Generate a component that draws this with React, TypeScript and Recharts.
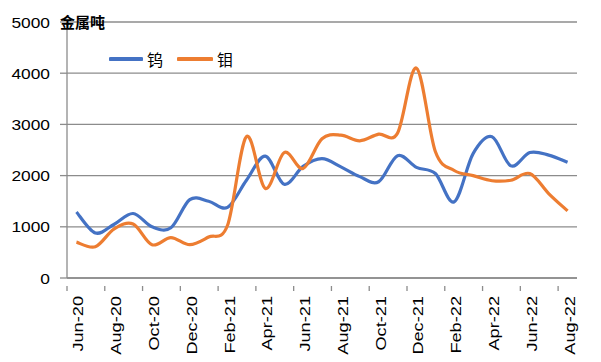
import { CartesianGrid, Line, LineChart, XAxis, YAxis } from "recharts";

const months = [
  "Jun-20", "Jul-20", "Aug-20", "Sep-20", "Oct-20", "Nov-20", "Dec-20",
  "Jan-21", "Feb-21", "Mar-21", "Apr-21", "May-21", "Jun-21", "Jul-21",
  "Aug-21", "Sep-21", "Oct-21", "Nov-21", "Dec-21", "Jan-22", "Feb-22",
  "Mar-22", "Apr-22", "May-22", "Jun-22", "Jul-22", "Aug-22",
];

const tungsten = [
  1290, 880, 1050, 1260, 1000, 980, 1530, 1500, 1380, 1910, 2380, 1830, 2180,
  2330, 2170, 1980, 1880, 2390, 2160, 2040, 1490, 2430, 2760, 2190, 2450, 2400,
  2260,
];

const molybdenum = [
  700, 610, 960, 1055, 650, 790, 650, 800, 1030, 2760, 1750, 2450, 2140, 2720,
  2790, 2680, 2810, 2830, 4100, 2470, 2100, 2000, 1900, 1910, 2040, 1650, 1310,
];

const yTicks = [0, 1000, 2000, 3000, 4000, 5000];

const seriesNames = { tungsten: "钨", molybdenum: "钼" };
const colors = { tungsten: "#4472C4", molybdenum: "#ED7D31" };

const gridColor = "#8c8c8c";
const halfBand = 510 / 27 / 2;

const data = months.map((month, i) => ({
  month,
  tungsten: tungsten[i],
  molybdenum: molybdenum[i],
}));

// smooth line like Excel's: bezier through every point, 1/6 neighbour handles
function excelCurve(context: any) {
  let pts: number[][] = [];
  return {
    areaStart() {},
    areaEnd() {},
    lineStart() {
      pts = [];
    },
    point(x: number, y: number) {
      pts.push([+x, +y]);
    },
    lineEnd() {
      const n = pts.length;
      if (n === 0) return;
      context.moveTo(pts[0][0], pts[0][1]);
      for (let i = 0; i < n - 1; i++) {
        const p0 = pts[i - 1] || pts[i];
        const p1 = pts[i];
        const p2 = pts[i + 1];
        const p3 = pts[i + 2] || p2;
        context.bezierCurveTo(
          p1[0] + (p2[0] - p0[0]) / 6,
          p1[1] + (p2[1] - p0[1]) / 6,
          p2[0] - (p3[0] - p1[0]) / 6,
          p2[1] - (p3[1] - p1[1]) / 6,
          p2[0],
          p2[1],
        );
      }
    },
  };
}

function XTick({ x, y, payload }: any) {
  const left = x - halfBand;
  return (
    <g>
      <line x1={left} x2={left} y1={y} y2={y + 5} stroke={gridColor} strokeWidth={1.3} />
      <text
        transform={`translate(${x + 7},${y + 10}) rotate(-90) scale(1.3,1)`}
        textAnchor="end"
        fontSize={14}
        fill="#000"
        fontFamily="'Liberation Sans', Arial, sans-serif"
      >
        {payload.value}
      </text>
    </g>
  );
}

function YTick({ x, y, payload }: any) {
  return (
    <text
      transform={`translate(${x - 8},${y}) scale(1.12,1)`}
      textAnchor="end"
      dy="0.36em"
      fontSize={15.5}
      fill="#000"
      fontFamily="'Liberation Sans', Arial, sans-serif"
    >
      {payload.value}
    </text>
  );
}

function LegendBox() {
  const items = [
    { key: "tungsten", width: 34 },
    { key: "molybdenum", width: 36 },
  ] as const;
  return (
    <div style={{ position: "absolute", left: 109, top: 49, display: "flex", alignItems: "center" }}>
      {items.map((item) => (
        <div key={item.key} style={{ display: "flex", alignItems: "center", marginRight: 14 }}>
          <svg width={item.width} height={6}>
            <line x1={1.5} x2={item.width - 1.5} y1={3} y2={3} stroke={colors[item.key]} strokeWidth={4} strokeLinecap="round" />
          </svg>
          <span style={{ marginLeft: 4, fontSize: 16, lineHeight: "20px", fontFamily: "'Noto Sans CJK SC', sans-serif", color: "#000" }}>
            {seriesNames[item.key]}
          </span>
        </div>
      ))}
    </div>
  );
}

export default function App() {
  return (
    <div style={{ position: "absolute", left: 0, top: 0, width: 601, height: 362, background: "#fff" }}>
      <LineChart width={601} height={362} data={data} margin={{ top: 22, right: 24, bottom: 0, left: 0 }}>
        <CartesianGrid vertical={false} stroke={gridColor} strokeWidth={1.3} />
        <XAxis
          dataKey="month"
          interval={1}
          height={84}
          padding={{ left: halfBand, right: halfBand }}
          axisLine={{ stroke: gridColor, strokeWidth: 1.3 }}
          tickLine={false}
          tick={<XTick />}
        />
        <YAxis
          width={67}
          domain={[0, 5000]}
          ticks={yTicks}
          axisLine={{ stroke: gridColor, strokeWidth: 1.3 }}
          tickLine={{ stroke: gridColor, strokeWidth: 1.3 }}
          tickSize={7}
          tick={<YTick />}
        />
        <Line
          dataKey="tungsten"
          name={seriesNames.tungsten}
          type={excelCurve as any}
          stroke={colors.tungsten}
          strokeWidth={3.2}
          dot={false}
          activeDot={false}
          isAnimationActive={false}
        />
        <Line
          dataKey="molybdenum"
          name={seriesNames.molybdenum}
          type={excelCurve as any}
          stroke={colors.molybdenum}
          strokeWidth={3.2}
          dot={false}
          activeDot={false}
          isAnimationActive={false}
        />
      </LineChart>
      <LegendBox />
      <div
        style={{
          position: "absolute",
          left: 60,
          top: 12,
          fontSize: 15,
          fontWeight: "bold",
          fontFamily: "'Noto Sans CJK SC', sans-serif",
          lineHeight: "20px",
          color: "#000",
        }}
      >
        金属吨
      </div>
    </div>
  );
}
